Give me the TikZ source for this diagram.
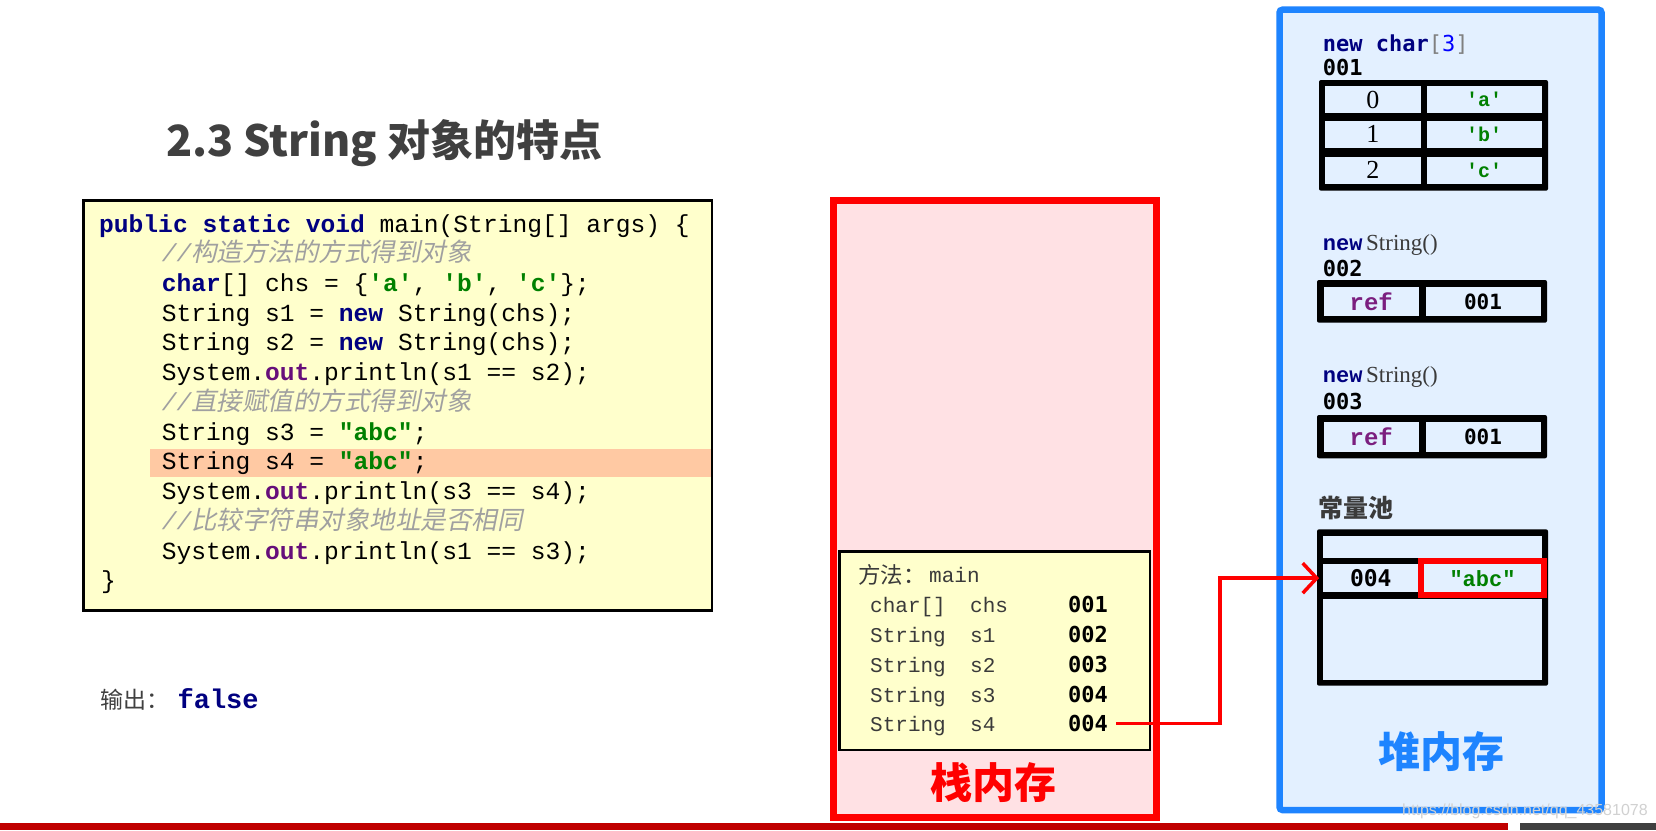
\documentclass[tikz,border=0pt]{standalone}
\usepackage{fontspec}
\usetikzlibrary{arrows.meta}
\setmainfont{Liberation Serif}
\newfontfamily\cjk{Noto Sans CJK SC}
\newfontfamily\cjkit{Noto Sans CJK SC}[FakeSlant=0.2]
\newfontfamily\lmono{Liberation Mono}
\newfontfamily\dvm{DejaVu Sans Mono}
\newfontfamily\lsans{Liberation Sans}
\newcommand\fsz[1]{\fontsize{#1}{#1}\selectfont}
\definecolor{codebg}{HTML}{FFFFCC}
\definecolor{hilite}{HTML}{FFC9A3}
\definecolor{stackbg}{HTML}{FFE1E4}
\definecolor{heapbg}{HTML}{E3F0FF}
\definecolor{heapblue}{HTML}{1E84FF}
\definecolor{navy}{HTML}{000080}
\definecolor{jgreen}{HTML}{008000}
\definecolor{jpurple}{HTML}{660E7A}
\definecolor{refpurple}{HTML}{7B1F7F}
\definecolor{cmgray}{HTML}{A0A0A0}
\definecolor{titlegray}{HTML}{404040}
\definecolor{txtgray}{HTML}{3A3A3A}
\definecolor{barred}{HTML}{C00000}
\newcommand\jkw[1]{{\bfseries\color{navy}#1}}
\newcommand\jst[1]{{\bfseries\color{jgreen}#1}}
\newcommand\jout[1]{{\bfseries\color{jpurple}#1}}
\newcommand\sqt{\textquotesingle}
\newcommand\dqt{\textquotedbl}
\tikzset{
  code/.style={anchor=base west, inner sep=0, font=\lmono\fsz{24.6}, text=black},
  cmt/.style={anchor=base west, inner sep=0, text=cmgray},
  stk/.style={anchor=base west, inner sep=0, font=\lmono\fsz{21}, text=txtgray},
  addr/.style={anchor=base west, inner sep=0, font=\dvm\bfseries\fsz{22}, text=black},
  cellbox/.style={fill=heapbg, draw=none, inner sep=0},
  bigbox/.style={inner sep=0},
}
\begin{document}
\begin{tikzpicture}[x=1pt,y=-1pt]
\useasboundingbox (0,0) rectangle (1656,830);
\fill[white] (0,0) rectangle (1656,830);

% title
\node[anchor=west, inner sep=0, font=\cjk\bfseries\fsz{43}, text=titlegray] (title) at (166,143.5) {2.3 String 对象的特点};

% code box
\node[bigbox, fill=codebg, draw=black, line width=2.5, minimum width=628.4, minimum height=409.7] (codebox) at (397.6,405.55) {};
\fill[hilite] (150,448.8) rectangle (710.5,477.3);
\node[code] (c1) at (99,232) {\jkw{public static void} main(String[] args) \{};
\node[cmt] (c2) at (161.6,261.7) {\lmono\itshape\fsz{24.6}//\cjkit\fsz{25.5}构造方法的方式得到对象};
\node[code] (c3) at (161.6,291.4) {\jkw{char}[] chs = \{\jst{\sqt a\sqt}, \jst{\sqt b\sqt}, \jst{\sqt c\sqt}\};};
\node[code] (c4) at (161.6,321.2) {String s1 = \jkw{new} String(chs);};
\node[code] (c5) at (161.6,350.9) {String s2 = \jkw{new} String(chs);};
\node[code] (c6) at (161.6,380.7) {System.\jout{out}.println(s1 == s2);};
\node[cmt] (c7) at (161.6,410.4) {\lmono\itshape\fsz{24.6}//\cjkit\fsz{25.5}直接赋值的方式得到对象};
\node[code] (c8) at (161.6,440.2) {String s3 = \jst{\dqt abc\dqt};};
\node[code] (c9) at (161.6,469.9) {String s4 = \jst{\dqt abc\dqt};};
\node[code] (c10) at (161.6,499.7) {System.\jout{out}.println(s3 == s4);};
\node[cmt] (c11) at (161.6,529.4) {\lmono\itshape\fsz{24.6}//\cjkit\fsz{25.5}比较字符串对象地址是否相同};
\node[code] (c12) at (161.6,559.2) {System.\jout{out}.println(s1 == s3);};
\node[code] (c13) at (101,588.9) {\}};

% output
\node[anchor=west, inner sep=0, font=\cjk\fsz{23}, text=titlegray] (outlbl) at (100,700) {输出：};
\node[anchor=base west, inner sep=0, font=\lmono\bfseries\fsz{27}, text=navy] (outval) at (177.4,708.5) {false};

% stack
\node[bigbox, fill=stackbg, draw=red, line width=6.5, minimum width=323, minimum height=617] (stack) at (995,509) {};
\node[bigbox, fill=codebg, draw=black, line width=2.5, minimum width=310.5, minimum height=198.7] (frame) at (994.75,650.65) {};
\node[anchor=west, inner sep=0, font=\cjk\fsz{22.5}, text=txtgray] (mlbl) at (858,575) {方法：};
\node[stk] (mname) at (929,582) {main};
\node[stk] (t1) at (870,612) {char[]};
\node[stk] (n1) at (970,612) {chs};
\node[addr] (v1) at (1068,612) {001};
\node[stk] (t2) at (870,642.7) {String};
\node[stk] (n2) at (970,642.7) {s1};
\node[addr] (v2) at (1068,642.7) {002};
\node[stk] (t3) at (870,672) {String};
\node[stk] (n3) at (970,672) {s2};
\node[addr] (v3) at (1068,672) {003};
\node[stk] (t4) at (870,702) {String};
\node[stk] (n4) at (970,702) {s3};
\node[addr] (v4) at (1068,702) {004};
\node[stk] (t5) at (870,731.3) {String};
\node[stk] (n5) at (970,731.3) {s4};
\node[addr] (v5) at (1068,731.3) {004};
\node[font=\cjk\bfseries\fsz{42}, text=red, inner sep=0] (stacklbl) at (993,783) {栈内存};

% heap
\node[bigbox, fill=heapbg, draw=heapblue, line width=6.5, rounded corners=3, minimum width=322, minimum height=800.3] (heap) at (1440.5,409.85) {};
\node[anchor=base west, inner sep=0, font=\dvm\fsz{22}] (arrnew) at (1322.7,51) {\textbf{\color{navy}new char}{\color{gray}[}{\color{blue}3}{\color{gray}]}};
\node[addr] (a001) at (1322.7,75.5) {001};
\fill[black, rounded corners=2] (1319,80) rectangle (1548,190.7);
\node[cellbox, minimum width=95.7, minimum height=27, font=\fsz{26}] (i0) at (1372.85,99.5) {0};
\node[cellbox, minimum width=115, minimum height=27, font=\lmono\bfseries\fsz{20}, text=jgreen] (e0) at (1484.2,99.5) {\sqt a\sqt};
\node[cellbox, minimum width=95.7, minimum height=27.3, font=\fsz{26}] (i1) at (1372.85,134.35) {1};
\node[cellbox, minimum width=115, minimum height=27.3, font=\lmono\bfseries\fsz{20}, text=jgreen] (e1) at (1484.2,134.35) {\sqt b\sqt};
\node[cellbox, minimum width=95.7, minimum height=27.3, font=\fsz{26}] (i2) at (1372.85,170.35) {2};
\node[cellbox, minimum width=115, minimum height=27.3, font=\lmono\bfseries\fsz{20}, text=jgreen] (e2) at (1484.2,170.35) {\sqt c\sqt};

\node[anchor=base west, inner sep=0] (snew2) at (1322.7,250.5) {\lmono\bfseries\fsz{22}\color{navy}new\,\fontspec{Liberation Serif}\mdseries\fsz{23}\color{txtgray}String()};
\node[addr] (a002) at (1322.7,276) {002};
\fill[black, rounded corners=2] (1317,280) rectangle (1547,322.7);
\node[cellbox, minimum width=95.5, minimum height=29.3, font=\lmono\bfseries\fsz{24}, text=refpurple] (r2) at (1371.25,301.35) {ref};
\node[cellbox, minimum width=115, minimum height=29.3, font=\dvm\bfseries\fsz{21}] (p2) at (1483,301.35) {001};

\node[anchor=base west, inner sep=0] (snew3) at (1322.7,382.5) {\lmono\bfseries\fsz{22}\color{navy}new\,\fontspec{Liberation Serif}\mdseries\fsz{23}\color{txtgray}String()};
\node[addr] (a003) at (1322.7,409.5) {003};
\fill[black, rounded corners=2] (1317,415) rectangle (1547,458.3);
\node[cellbox, minimum width=95.5, minimum height=30, font=\lmono\bfseries\fsz{24}, text=refpurple] (r3) at (1371.25,436.7) {ref};
\node[cellbox, minimum width=115, minimum height=30, font=\dvm\bfseries\fsz{21}] (p3) at (1483,436.7) {001};

\node[anchor=west, inner sep=0, font=\cjk\bfseries\fsz{25}, text=txtgray] (pool) at (1318,508.3) {常量池};
\fill[black, rounded corners=2] (1317,529.3) rectangle (1548,685.7);
\node[cellbox, minimum width=218.4, minimum height=22.3] (ptop) at (1432.5,547.15) {};
\node[cellbox, minimum width=95, minimum height=28.3, font=\dvm\bfseries\fsz{23}] (pool4) at (1370.8,578.15) {004};
\node[fill=heapbg, draw=red, line width=6, inner sep=0, minimum width=122.4, minimum height=34, font=\lmono\bfseries\fsz{22}, text=jgreen] (abc) at (1482.5,578.3) {\dqt abc\dqt};
\node[cellbox, minimum width=218.4, minimum height=81] (pbot) at (1432.5,639.5) {};

\node[font=\cjk\bfseries\fsz{42}, text=heapblue, inner sep=0] (heaplbl) at (1441,751.7) {堆内存};

% connector
\coordinate (turn) at (1220,650);
\draw[red, line width=3.5, -{Straight Barb[length=14pt,width=30pt,line width=3.5]}, shorten >=4pt]
  ([xshift=8pt]v5.east) -| (turn) |- (pool4.west);

% bottom bars
\fill[barred] (0,823.3) rectangle (1508,830);
\fill[titlegray] (1519.7,823.3) rectangle (1656,830);

% watermark
\node[anchor=west, inner sep=0, font=\lsans\fsz{16}, text=black!18] (wm) at (1402,811) {https://blog.csdn.net/qq\_43581078};
\end{tikzpicture}
\end{document}
